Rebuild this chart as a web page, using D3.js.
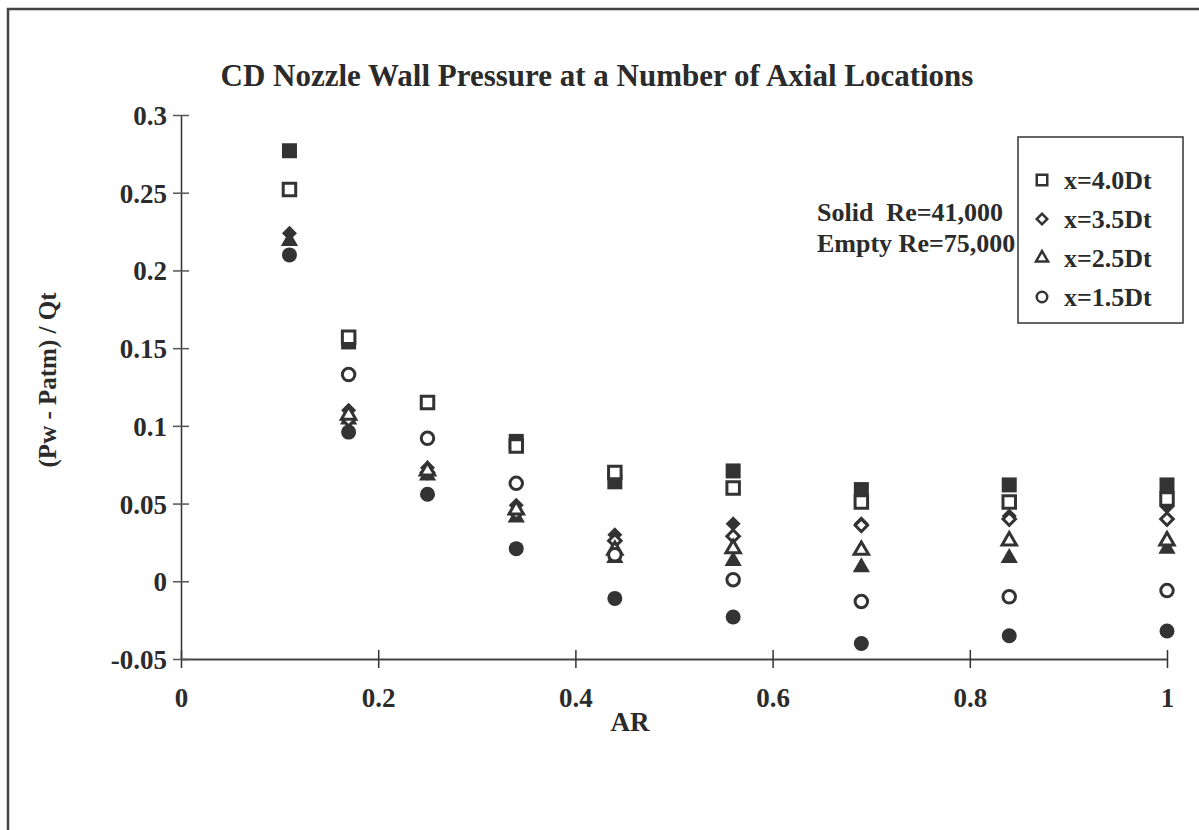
<!DOCTYPE html>
<html>
<head>
<meta charset="utf-8">
<script src="https://cdn.jsdelivr.net/npm/d3@7"></script>
<style>
  body { margin: 0; background: #fff; }
  text { font-family: "Liberation Serif", "Times New Roman", serif; font-weight: bold; fill: #2b2b2b; }
</style>
</head>
<body>
<svg id="place" width="1199" height="830"></svg>
<script>
var ar = [0.11, 0.17, 0.25, 0.34, 0.44, 0.56, 0.69, 0.84, 1.0];

// solid markers, Re=41,000
var sq41 = [0.277, 0.154, 0.115, 0.090, 0.064, 0.071, 0.059, 0.062, 0.062];
var di41 = [0.224, 0.110, 0.073, 0.049, 0.030, 0.037, 0.037, 0.042, 0.048];
var tr41 = [0.219, 0.104, 0.068, 0.041, 0.015, 0.013, 0.009, 0.015, 0.021];
var ci41 = [0.210, 0.096, 0.056, 0.021, -0.011, -0.023, -0.040, -0.035, -0.032];

// empty markers, Re=75,000 (no visible point at AR=0.11 for three of them)
var sq75 = [0.252, 0.157, 0.115, 0.087, 0.070, 0.060, 0.051, 0.051, 0.053];
var di75 = [null, 0.104, 0.070, 0.044, 0.026, 0.029, 0.036, 0.040, 0.040];
var tr75 = [null, 0.107, 0.071, 0.046, 0.020, 0.021, 0.020, 0.026, 0.026];
var ci75 = [null, 0.133, 0.092, 0.063, 0.017, 0.001, -0.013, -0.010, -0.006];

var legendLabels = ["x=4.0Dt", "x=3.5Dt", "x=2.5Dt", "x=1.5Dt"];
var xTicks = [0, 0.2, 0.4, 0.6, 0.8, 1];
var yTicks = [-0.05, 0, 0.05, 0.1, 0.15, 0.2, 0.25, 0.3];

var ink = "#333";
var svg = d3.select("#place");

var x = d3.scaleLinear().domain([0, 1]).range([181, 1167]);
var y = d3.scaleLinear().domain([-0.05, 0.3]).range([659, 115]);

// outer frame
svg.append("path")
    .attr("d", "M8,830 L8,9 L1199,9")
    .attr("fill", "none")
    .attr("stroke", "#444")
    .attr("stroke-width", 2.5);

svg.append("text")
    .attr("x", 597).attr("y", 86)
    .attr("text-anchor", "middle")
    .style("font-size", "31px")
    .text("CD Nozzle Wall Pressure at a Number of Axial Locations");

// axes
var xAxis = d3.axisBottom(x).tickValues(xTicks).tickSize(0).tickPadding(0)
    .tickFormat(function(d) { return String(d); });
var gx = svg.append("g").attr("transform", "translate(0,659)").call(xAxis);
gx.select(".domain").attr("stroke", "#444").attr("stroke-width", 2);
gx.selectAll(".tick line").attr("y1", -9).attr("y2", 9).attr("stroke", "#333").attr("stroke-width", 1.5);
gx.selectAll(".tick text").attr("y", 48).attr("dy", 0)
    .style("font-size", "27px").attr("fill", "#2b2b2b");

var yAxis = d3.axisLeft(y).tickValues(yTicks).tickSize(0).tickPadding(0)
    .tickFormat(function(d) { return String(+d.toFixed(2)); });
var gy = svg.append("g").attr("transform", "translate(181,0)").call(yAxis);
gy.select(".domain").attr("stroke", "#333").attr("stroke-width", 1.5);
gy.selectAll(".tick line").attr("x1", -8).attr("x2", 8).attr("stroke", "#555").attr("stroke-width", 1.5);
gy.selectAll(".tick text").attr("x", -14).attr("dy", "0.35em")
    .style("font-size", "27px").attr("fill", "#2b2b2b");

svg.append("text")
    .attr("x", 630).attr("y", 731)
    .attr("text-anchor", "middle")
    .style("font-size", "27px")
    .text("AR");

svg.append("text")
    .attr("transform", "translate(56,380)rotate(-90)")
    .attr("text-anchor", "middle")
    .style("font-size", "25px")
    .text("(Pw - Patm) / Qt");

// marker shapes
var shape = {
    square: function(s) { return d3.symbol().type(d3.symbolSquare).size(s * s)(); },
    diamond: function(s) { return d3.symbol().type(d3.symbolSquare).size(s * s / 2)(); },
    triangle: function(s) { return d3.symbol().type(d3.symbolTriangle).size(s * s * 0.433)(); },
    circle: function(s) { return d3.symbol().type(d3.symbolCircle).size(Math.PI * s * s / 4)(); }
};
var rot = { square: 0, diamond: 45, triangle: 0, circle: 0 };
var kinds = ["square", "diamond", "triangle", "circle"];

var solid = [sq41, di41, tr41, ci41];
var empty = [sq75, di75, tr75, ci75];

function drawSeries(vals, kind, filled) {
    var s = filled ? 15 : 12.5;
    var pts = vals.map(function(v, i) { return { a: ar[i], v: v }; })
        .filter(function(p) { return p.v != null; });
    svg.append("g").selectAll("path")
        .data(pts)
        .join("path")
        .attr("d", shape[kind](kind == "triangle" ? s * 1.15 : s))
        .attr("transform", function(d) {
            return "translate(" + x(d.a) + "," + y(d.v) + ")rotate(" + rot[kind] + ")";
        })
        .attr("fill", filled ? ink : "#fff")
        .attr("stroke", filled ? "none" : ink)
        .attr("stroke-width", filled ? 0 : 3);
}

kinds.forEach(function(k, i) { drawSeries(solid[i], k, true); });
kinds.forEach(function(k, i) { drawSeries(empty[i], k, false); });

// annotation
svg.append("text").attr("x", 817).attr("y", 221).style("font-size", "26px")
    .attr("xml:space", "preserve").text("Solid  Re=41,000");
svg.append("text").attr("x", 817).attr("y", 252).style("font-size", "26px")
    .text("Empty Re=75,000");

// legend
var lg = svg.append("g");
lg.append("rect")
    .attr("x", 1018).attr("y", 137).attr("width", 165).attr("height", 186)
    .attr("fill", "#fff").attr("stroke", "#333").attr("stroke-width", 1.5);
var rows = lg.selectAll("g.row").data(legendLabels).join("g")
    .attr("class", "row")
    .attr("transform", function(d, i) { return "translate(1042," + (180 + i * 39) + ")"; });
rows.append("path")
    .attr("d", function(d, i) { return shape[kinds[i]](kinds[i] == "triangle" ? 12 : 10.5); })
    .attr("transform", function(d, i) { return "rotate(" + rot[kinds[i]] + ")"; })
    .attr("fill", "#fff").attr("stroke", ink).attr("stroke-width", 2.5);
rows.append("text")
    .attr("x", 22).attr("dy", "0.35em")
    .style("font-size", "26px")
    .text(function(d) { return d; });
</script>
</body>
</html>
